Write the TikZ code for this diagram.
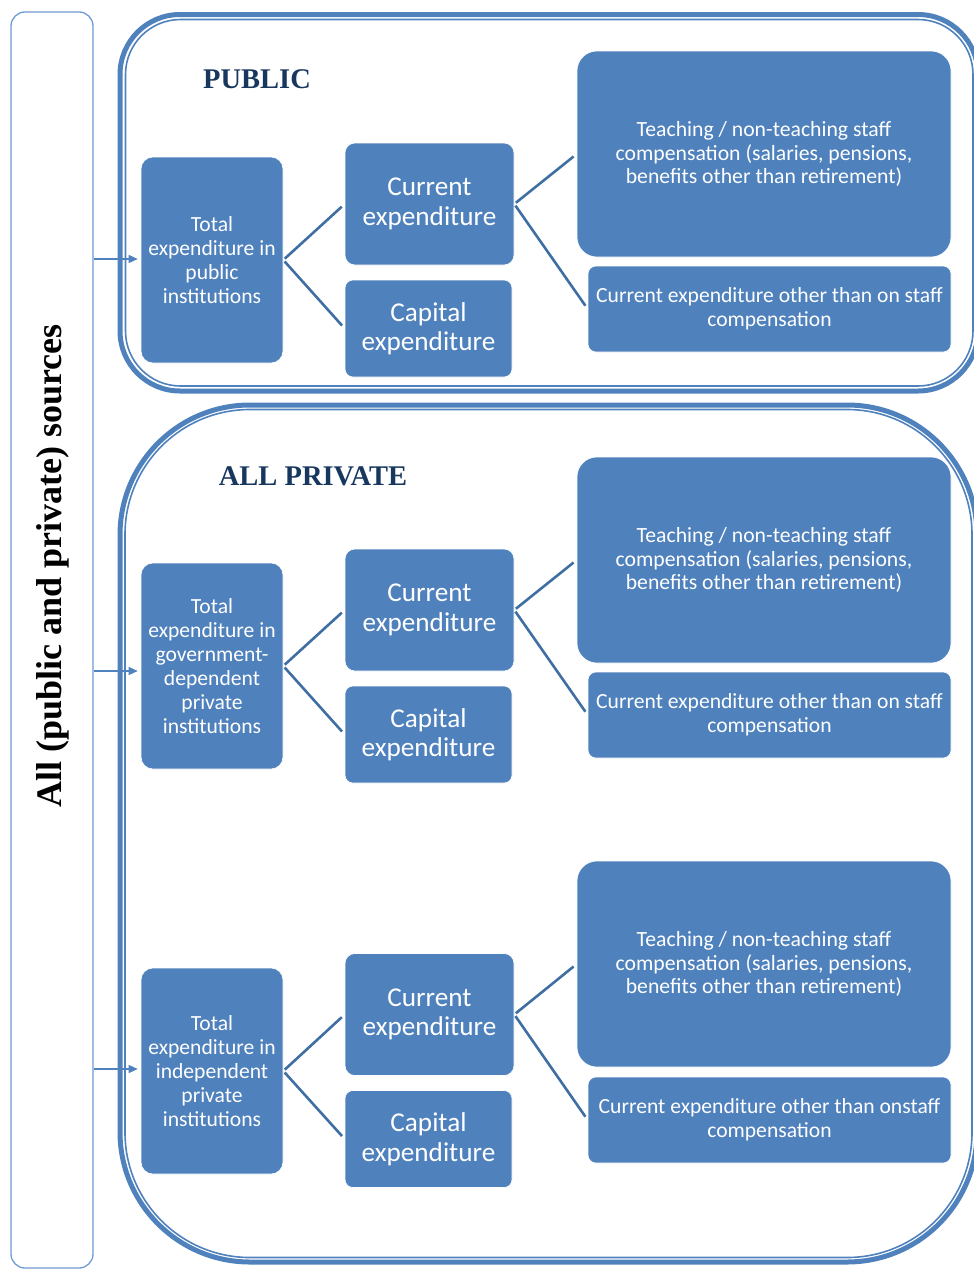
\documentclass[tikz,border=0pt]{standalone}
\usepackage{fontspec}
\setmainfont{Liberation Serif}
\newfontfamily\carlito{Carlito}
\usetikzlibrary{arrows.meta}
\definecolor{boxblue}{HTML}{4F81BD}
\definecolor{linkblue}{HTML}{3F6EA3}
\definecolor{framelight}{HTML}{6F9BD2}
\definecolor{headnavy}{HTML}{17375E}
\tikzset{
  bx/.style={fill=boxblue, draw=white, line width=0.6pt, text=white, align=center, inner sep=0pt},
  totbox/.style={bx, rounded corners=12pt, minimum width=142pt, minimum height=206pt,
     font=\carlito\fontsize{21.6}{24}\selectfont},
  curbox/.style={bx, rounded corners=10pt, minimum width=169pt, minimum height=122pt,
     font=\carlito\fontsize{27.2}{29.5}\selectfont},
  capbox/.style={bx, rounded corners=8pt, minimum width=167pt, minimum height=97pt,
     font=\carlito\fontsize{27.2}{29.5}\selectfont},
  teabox/.style={bx, rounded corners=20pt, minimum width=374pt, minimum height=206pt,
     font=\carlito\fontsize{21.7}{23.5}\selectfont},
  othbox/.style={bx, rounded corners=8pt, minimum width=363pt, minimum height=86pt,
     font=\carlito\fontsize{21.6}{24}\selectfont},
  link/.style={draw=linkblue, line width=2.6pt},
  feed/.style={draw=boxblue, line width=1.3pt, -{Triangle[length=9pt,width=8pt]}},
  heading/.style={text=headnavy, font=\bfseries\fontsize{28.5}{32}\selectfont},
  outerline/.style={draw=boxblue, line width=5pt},
  innerline/.style={draw=boxblue, line width=1.6pt},
}
\begin{document}
\begin{tikzpicture}[x=1pt,y=-1pt]
\useasboundingbox (0,0) rectangle (974,1269);
\clip (0,0) rectangle (974,1269);

% left frame
\node[draw=framelight, line width=1.3pt, rounded corners=14pt, minimum width=82pt, minimum height=1256pt, inner sep=0pt]
  (lbox) at (52,640) {};
\node[rotate=90, font=\bfseries\fontsize{36}{40}\selectfont] (side) at (53,566) {All (public and private) sources};

% containers
\draw[outerline, rounded corners=60pt] (120,14.5) rectangle (978,391);
\draw[innerline, rounded corners=55pt] (125.5,19.5) rectangle (973,386);
\draw[outerline, rounded corners=130pt] (120,405) rectangle (977,1262);
\draw[innerline, rounded corners=125pt] (125,409.5) rectangle (972,1257.5);

\node[heading] (hpub) at (257,79) {PUBLIC};
\node[heading] (hpriv) at (313,476) {ALL PRIVATE};

% group 1: public
\node[totbox] (tot1) at (212,260) {Total\\expenditure in\\public\\institutions};
\node[curbox] (cur1) at (429.5,204) {Current\\expenditure};
\node[capbox] (cap1) at (428.5,328.5) {Capital\\expenditure};
\node[teabox] (tea1) at (764,154) {Teaching / non-teaching staff\\compensation (salaries, pensions,\\benefits other than retirement)};
\node[othbox] (oth1) at (769.5,309) {Current expenditure other than on staff\\compensation};

% group 2: government-dependent private
\node[totbox] (tot2) at (212,666) {Total\\expenditure in\\government-\\dependent\\private\\institutions};
\node[curbox] (cur2) at (429.5,610) {Current\\expenditure};
\node[capbox] (cap2) at (428.5,734.5) {Capital\\expenditure};
\node[teabox] (tea2) at (764,560) {Teaching / non-teaching staff\\compensation (salaries, pensions,\\benefits other than retirement)};
\node[othbox] (oth2) at (769.5,715) {Current expenditure other than on staff\\compensation};

% group 3: independent private
\node[totbox] (tot3) at (212,1071) {Total\\expenditure in\\independent\\private\\institutions};
\node[curbox] (cur3) at (429.5,1014.5) {Current\\expenditure};
\node[capbox] (cap3) at (428.5,1139) {Capital\\expenditure};
\node[teabox] (tea3) at (764,964) {Teaching / non-teaching staff\\compensation (salaries, pensions,\\benefits other than retirement)};
\node[othbox] (oth3) at (769.5,1120) {Current expenditure other than onstaff\\compensation};

% connectors
\foreach \i in {1,2,3}{
  \draw[link, shorten <=2pt, shorten >=4pt] (tot\i.east) -- (cur\i.west);
  \draw[link, shorten <=2pt, shorten >=4pt] (tot\i.east) -- (cap\i.west);
  \draw[link, shorten <=2pt, shorten >=4pt] (cur\i.east) -- (tea\i.west);
  \draw[link, shorten <=2pt, shorten >=4pt] (cur\i.east) -- (oth\i.west);
}

% feeds from the side frame
\draw[feed, shorten >=3pt] ([yshift=1pt]lbox.east |- tot1.west) -- ([yshift=1pt]tot1.west);
\draw[feed, shorten >=3pt] ([yshift=-5pt]lbox.east |- tot2.west) -- ([yshift=-5pt]tot2.west);
\draw[feed, shorten >=3pt] ([yshift=2pt]lbox.east |- tot3.west) -- ([yshift=2pt]tot3.west);
\end{tikzpicture}
\end{document}
